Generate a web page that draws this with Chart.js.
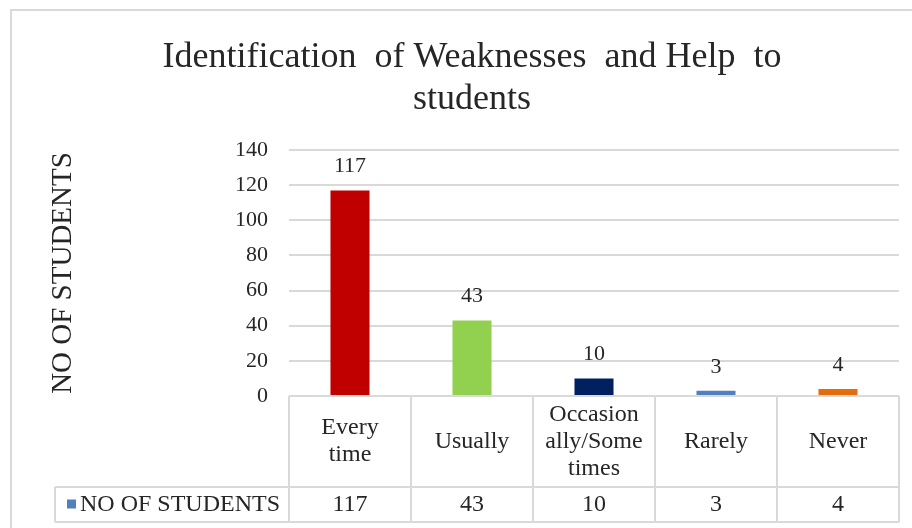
<!DOCTYPE html>
<html><head><meta charset="utf-8">
<script src="https://cdn.jsdelivr.net/npm/chart.js@4/dist/chart.umd.min.js"></script>
<style>html,body{margin:0;padding:0;background:#fff;overflow:hidden}#wrap{width:912px;height:528px;position:relative}</style>
</head><body><div id="wrap"><canvas id="c" width="912" height="528"></canvas></div>
<script>
const chartTitle = ['Identification  of Weaknesses  and Help  to', 'students'];
const axisTitle = 'NO OF STUDENTS';
const categories = [['Every', 'time'], ['Usually'], ['Occasion', 'ally/Some', 'times'], ['Rarely'], ['Never']];
const seriesName = 'NO OF STUDENTS';
const values = [117, 43, 10, 3, 4];
const barColors = ['#C00000', '#92D050', '#002060', '#4F81BD', '#E46C0A'];
const legendColor = '#4F81BD';
const yMin = 0, yMax = 140, yStep = 20;

const SERIF = '"Liberation Serif", "Times New Roman", serif';
const TXT = '#262626';
const LINE = '#D9D9D9';

const tablePlugin = {
  id: 'tablePlugin',
  beforeDraw(chart) {
    const ctx = chart.ctx;
    ctx.save();
    ctx.strokeStyle = LINE; ctx.lineWidth = 2;
    ctx.beginPath();
    ctx.moveTo(11, 528); ctx.lineTo(11, 10); ctx.lineTo(912, 10);
    ctx.stroke();
    ctx.restore();
  },
  afterDatasetsDraw(chart) {
    const ctx = chart.ctx;
    const xs = chart.scales.x;
    const meta = chart.getDatasetMeta(0);
    const area = chart.chartArea;
    ctx.save();
    // data labels
    ctx.fillStyle = TXT;
    ctx.font = '22px ' + SERIF;
    ctx.textAlign = 'center';
    ctx.textBaseline = 'middle';
    meta.data.forEach((bar, i) => {
      ctx.fillText(String(values[i]), bar.x, bar.y - 24);
    });
    // data table
    const n = categories.length;
    const colW = (area.right - area.left) / n;
    const top = area.bottom;
    const mid = top + 91;
    const bottom = mid + 35;
    const legLeft = 55;
    ctx.strokeStyle = LINE; ctx.lineWidth = 2;
    ctx.beginPath();
    ctx.moveTo(area.left, top); ctx.lineTo(area.right, top);
    ctx.moveTo(legLeft, mid); ctx.lineTo(area.right, mid);
    ctx.moveTo(legLeft, bottom); ctx.lineTo(area.right, bottom);
    ctx.moveTo(legLeft, mid); ctx.lineTo(legLeft, bottom);
    for (let i = 0; i <= n; i++) {
      const x = (i < n ? xs.getPixelForValue(i) : xs.getPixelForValue(n - 1) + colW) - colW / 2;
      ctx.moveTo(x, top); ctx.lineTo(x, bottom);
    }
    ctx.stroke();
    // category text and values
    ctx.fillStyle = TXT;
    ctx.font = '24px ' + SERIF;
    const lh = 27;
    categories.forEach((lines, i) => {
      const cx = xs.getPixelForValue(i);
      const cy = (top + mid) / 2;
      const y0 = cy - (lines.length - 1) * lh / 2;
      lines.forEach((t, j) => ctx.fillText(t, cx, y0 + j * lh));
      ctx.fillText(String(values[i]), cx, (mid + bottom) / 2);
    });
    // legend key
    ctx.fillStyle = legendColor;
    ctx.fillRect(67, (mid + bottom) / 2 - 5, 9, 9);
    ctx.fillStyle = TXT;
    ctx.textAlign = 'left';
    ctx.fillText(seriesName, 80, (mid + bottom) / 2);
    ctx.restore();
  }
};

new Chart(document.getElementById('c'), {
  type: 'bar',
  data: {
    labels: categories,
    datasets: [{
      label: seriesName,
      data: values,
      backgroundColor: barColors,
      borderWidth: 0,
      barPercentage: 0.32,
      categoryPercentage: 1
    }]
  },
  options: {
    responsive: false,
    animation: false,
    devicePixelRatio: 1,
    layout: { padding: { left: 45, right: 13, top: 10, bottom: 132 } },
    scales: {
      x: { display: false },
      y: {
        min: yMin, max: yMax,
        ticks: { stepSize: yStep, padding: 21, color: TXT, font: { family: SERIF, size: 22 } },
        grid: { color: LINE, lineWidth: 2, drawTicks: false },
        border: { display: false },
        title: { display: true, text: axisTitle, color: TXT, font: { family: SERIF, size: 29 }, padding: { top: 1, bottom: 0 } },
        afterFit(s) { s.width = 244; }
      }
    },
    plugins: {
      legend: { display: false },
      tooltip: { enabled: false },
      title: {
        display: true,
        text: chartTitle,
        color: TXT,
        font: { family: SERIF, size: 36, weight: 'normal', lineHeight: 1.17 },
        padding: { top: 26, bottom: 29.76 }
      }
    }
  },
  plugins: [tablePlugin]
});
</script></body></html>
